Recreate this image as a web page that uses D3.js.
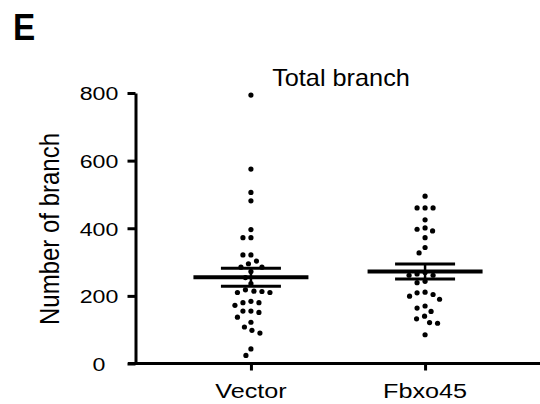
<!DOCTYPE html>
<html>
<head>
<meta charset="utf-8">
<script src="https://cdn.jsdelivr.net/npm/d3@7"></script>
<style>
	body { margin: 0; background: #fff; }
	text { font-family: Arial, "Liberation Sans", sans-serif; fill: #000; }
</style>
</head>
<body>
<div id="chart"></div>
<script>
const categories = ['Vector', 'Fbxo45'];
const vectorValues = [794, 575, 506, 481, 396, 372, 372, 321, 321, 303, 295, 285, 285, 272, 254, 236, 218, 214, 210, 210, 213, 184, 172, 180, 180, 155, 151, 155, 137, 122, 108, 98, 90, 43, 24];
const fbxo45Values = [495, 460, 460, 460, 425, 397, 401, 392, 372, 343, 327, 269, 265, 261, 261, 239, 243, 211, 199, 190, 204, 209, 170, 154, 164, 140, 121, 119, 132, 85];
const yTicks = [0, 200, 400, 600, 800];
const titleText = 'Total branch';
const yLabelText = 'Number of branch';
const panelLetter = 'E';

const width = 540;
const height = 404;
const dotRadius = 2.6;
const minDist = 8;

const svg = d3.select('#chart').append('svg').attr('width', width).attr('height', height);

const x = d3.scalePoint().domain(categories).range([136, 540]).padding(0.66);
const y = d3.scaleLinear().domain([0, 800]).range([363.5, 93]);

// text in the picture is stretched sideways, so scale it
function stretchedText(tx, ty, sx, sy, str, size, anchor) {
	return svg.append('text')
		.attr('transform', `translate(${tx},${ty}) scale(${sx},${sy})`)
		.attr('font-size', size)
		.attr('text-anchor', anchor)
		.text(str);
}

// simple beeswarm: put each point at the closest free offset from the centre
function swarm(values, cx) {
	const placed = [];
	values.slice().sort((a, b) => b - a).forEach(v => {
		const py = y(v);
		let off = 0;
		for (let k = 0; k < 400; k++) {
			const cand = (k % 2 === 0 ? 1 : -1) * Math.ceil(k / 2) * 0.5;
			const ok = placed.every(p => Math.hypot(p.x - (cx + cand), p.y - py) >= minDist);
			if (ok) { off = cand; break; }
		}
		placed.push({x: cx + off, y: py, v: v});
	});
	return placed;
}

const groups = [vectorValues, fbxo45Values];

groups.forEach((vals, i) => {
	const pts = swarm(vals, x(categories[i]));
	svg.append('g').selectAll('circle')
		.data(pts)
		.enter()
		.append('circle')
		.attr('cx', d => d.x)
		.attr('cy', d => d.y)
		.attr('r', dotRadius)
		.attr('fill', '#000');

	const mean = d3.mean(vals);
	const sem = d3.deviation(vals) / Math.sqrt(vals.length);
	const cx = x(categories[i]);
	const g = svg.append('g').attr('stroke', '#000');
	g.append('line')
		.attr('x1', cx).attr('x2', cx)
		.attr('y1', y(mean + sem)).attr('y2', y(mean - sem))
		.attr('stroke-width', 2.5);
	[mean + sem, mean - sem].forEach(v => {
		g.append('line')
			.attr('x1', cx - 30).attr('x2', cx + 30)
			.attr('y1', y(v)).attr('y2', y(v))
			.attr('stroke-width', 3);
	});
	g.append('line')
		.attr('x1', cx - 57.5).attr('x2', cx + 57.5)
		.attr('y1', y(mean)).attr('y2', y(mean))
		.attr('stroke-width', 4);
});

// y axis
const yAxis = svg.append('g')
	.attr('transform', 'translate(135.5,0)')
	.call(d3.axisLeft(y).tickValues(yTicks).tickSize(8).tickSizeOuter(0));
yAxis.select('.domain').attr('stroke-width', 3);
yAxis.selectAll('.tick line').attr('stroke-width', 3);
yAxis.selectAll('.tick text')
	.attr('x', null)
	.attr('dy', '0.36em')
	.attr('font-family', null)
	.attr('font-size', 19)
	.attr('text-anchor', 'middle')
	.attr('transform', 'translate(-36.5,0) scale(1.22,1)');

// x axis, the line runs a bit past the y axis
svg.append('line')
	.attr('x1', 128).attr('x2', width)
	.attr('y1', y(0)).attr('y2', y(0))
	.attr('stroke', '#000').attr('stroke-width', 3);
const xAxis = svg.append('g')
	.attr('transform', `translate(0,${y(0)})`)
	.call(d3.axisBottom(x).tickSize(7).tickSizeOuter(0));
xAxis.select('.domain').remove();
xAxis.selectAll('.tick line').attr('stroke-width', 3);
xAxis.selectAll('.tick text').remove();
categories.forEach(c => {
	stretchedText(x(c), 398, 1.2, 1, c, 21, 'middle');
});

stretchedText(341, 86, 1.1, 1, titleText, 23, 'middle');

svg.append('text')
	.attr('transform', 'translate(59,229) rotate(-90) scale(1,1.12)')
	.attr('font-size', 24)
	.attr('text-anchor', 'middle')
	.text(yLabelText);

stretchedText(13, 40, 0.9, 1, panelLetter, 37, 'start').attr('font-weight', 'bold');
</script>
</body>
</html>
